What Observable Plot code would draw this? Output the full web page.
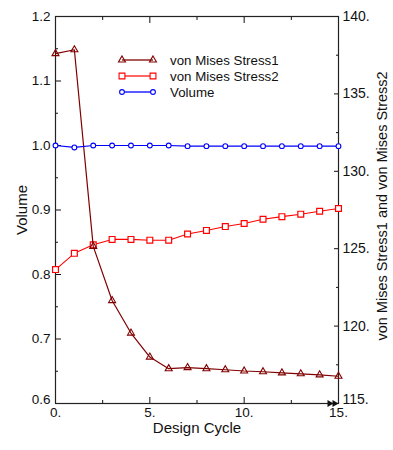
<!DOCTYPE html>
<html><head><meta charset="utf-8">
<script src="https://cdn.jsdelivr.net/npm/d3@7"></script>
<script src="https://cdn.jsdelivr.net/npm/@observablehq/plot@0.6"></script>
<style>
body{margin:0;background:#fff;}
#chart{position:relative;width:393px;height:450px;}
#legend{position:absolute;left:0;top:0;pointer-events:none;}
</style></head><body><div id="chart"></div>
<script>
// ---- data ----
const cycles  = [0,1,2,3,4,5,6,7,8,9,10,11,12,13,14,15];
const stress1 = [137.6,137.85,125.15,121.65,119.55,118.0,117.25,117.32,117.25,117.18,117.1,117.05,116.98,116.92,116.85,116.76];
const stress2 = [123.65,124.7,125.25,125.6,125.6,125.55,125.55,125.95,126.18,126.43,126.63,126.9,127.07,127.23,127.42,127.6];
const volume  = [1.0,0.997,1.0,1.0,1.0,1.0,1.0,0.999,0.999,0.999,0.999,0.999,0.999,0.999,0.999,0.999];
const seriesNames = ["von Mises Stress1","von Mises Stress2","Volume"];
const volumeTicks = [0.6,0.7,0.8,0.9,1.0,1.1,1.2];
const volumeMinor = [0.65,0.75,0.85,0.95,1.05,1.15];
const stressTicks = [115,120,125,130,135,140];
const stressMinor = [117.5,122.5,127.5,132.5,137.5];
const cycleTicks  = [0,5,10,15];
const cycleMinor  = [2.5,7.5,12.5];
const vDomain = [0.6,1.2];
const sDomain = [115,140];

// ---- helpers ----
const k = (vDomain[1]-vDomain[0])/(sDomain[1]-sDomain[0]);
const toV = s => vDomain[0] + (s - sDomain[0]) * k;
const toS = v => sDomain[0] + (v - vDomain[0]) / k;
const rows1 = cycles.map((c,i)=>({cycle:c, v:toV(stress1[i])}));
const rows2 = cycles.map((c,i)=>({cycle:c, v:toV(stress2[i])}));
const rows3 = cycles.map((c,i)=>({cycle:c, v:volume[i]}));
const colors = ["#800000","#ff0000","#0000ff"];
const symbols = ["triangle","square","circle"];
const vFmt = d=>d.toFixed(1);
const sFmt = v=>Math.round(toS(v))+".";
const none = ()=>"";

const plot = Plot.plot({
  width:393, height:450,
  marginLeft:55, marginRight:55, marginTop:16, marginBottom:47,
  style:{fontFamily:"'Liberation Sans', Arial, sans-serif", fontSize:"13.5px", color:"#111", background:"#fff"},
  x:{domain:[0,15]},
  y:{domain:vDomain},
  marks:[
    // left axis
    Plot.axisY(volumeTicks, {anchor:"left", tickSize:-6, tickFormat:none, label:null}),
    Plot.axisY(volumeTicks.slice(1), {anchor:"left", tickSize:0, tickPadding:5, tickFormat:vFmt, label:null}),
    Plot.axisY(volumeTicks.slice(0,1), {anchor:"left", tickSize:0, tickPadding:5, tickFormat:vFmt, label:null, dy:-4}),
    Plot.axisY(volumeMinor, {anchor:"left", tickSize:-3, tickFormat:none, label:null}),
    // right axis
    Plot.axisY(stressTicks.map(toV), {anchor:"right", tickSize:-5, tickFormat:none, label:null}),
    Plot.axisY(stressTicks.slice(1).map(toV), {anchor:"right", tickSize:0, tickPadding:4, tickFormat:sFmt, label:null, fontSize:14}),
    Plot.axisY(stressTicks.slice(0,1).map(toV), {anchor:"right", tickSize:0, tickPadding:4, tickFormat:sFmt, label:null, fontSize:14, dy:-4}),
    Plot.axisY(stressMinor.map(toV), {anchor:"right", tickSize:-3, tickFormat:none, label:null}),
    // bottom / top
    Plot.axisX(cycleTicks, {anchor:"bottom", tickSize:-6, tickPadding:10, tickFormat:d=>d+".", label:null}),
    Plot.axisX(cycleMinor, {anchor:"bottom", tickSize:-3, tickFormat:none, label:null}),
    Plot.axisX(cycleTicks, {anchor:"top", tickSize:-6, tickFormat:none, label:null}),
    Plot.axisX(cycleMinor, {anchor:"top", tickSize:-3, tickFormat:none, label:null}),
    Plot.frame({stroke:"#222", strokeWidth:1.2}),
    // series
    Plot.line(rows2, {x:"cycle", y:"v", stroke:colors[1], strokeWidth:1.1}),
    Plot.dot(rows2, {x:"cycle", y:"v", symbol:symbols[1], r:3.3, stroke:colors[1], fill:"white", strokeWidth:1.2}),
    Plot.line(rows1, {x:"cycle", y:"v", stroke:colors[0], strokeWidth:1.2}),
    Plot.dot(rows1, {x:"cycle", y:"v", symbol:symbols[0], r:2.6, stroke:colors[0], fill:"none", strokeWidth:1.1}),
    Plot.line(rows3, {x:"cycle", y:"v", stroke:colors[2], strokeWidth:1.2}),
    Plot.dot(rows3, {x:"cycle", y:"v", symbol:symbols[2], r:2.4, stroke:colors[2], fill:"white", strokeWidth:1.1}),
    // end marker on the x axis
    Plot.dot([0], {frameAnchor:"bottom-right", symbol:"triangle", rotate:90, r:2.6, fill:"#111", dx:-9}),
    Plot.dot([0], {frameAnchor:"bottom-right", symbol:"triangle", rotate:90, r:2.6, fill:"#111", dx:-4}),
    // axis titles
    Plot.text(["Volume"], {frameAnchor:"left", textAnchor:"middle", lineAnchor:"middle", rotate:-90, dx:-33, fontSize:15}),
    Plot.text(["von Mises Stress1 and von Mises Stress2"], {frameAnchor:"right", textAnchor:"middle", lineAnchor:"middle", rotate:-90, dx:44, dy:-4, fontSize:14.5}),
    Plot.text(["Design Cycle"], {frameAnchor:"bottom", textAnchor:"middle", lineAnchor:"middle", dy:25, fontSize:15})
  ]
});
const chart = document.getElementById("chart");
chart.appendChild(plot);

// ---- legend overlay ----
const leg = d3.create("svg").attr("id","legend").attr("width",393).attr("height",450)
  .style("font-family","'Liberation Sans', Arial, sans-serif").style("font-size","13.3px");
const symMap = {triangle:d3.symbolTriangle, square:d3.symbolSquare, circle:d3.symbolCircle};
const rMap = [2.6,3.3,2.4];
seriesNames.forEach((name,i)=>{
  const y = 60 + i*16;
  const g = leg.append("g");
  g.append("line").attr("x1",122).attr("x2",153).attr("y1",y).attr("y2",y)
    .attr("stroke",colors[i]).attr("stroke-width",i===1?2:1.3).attr("stroke-opacity",i===1?0.6:1);
  [122,153].forEach(x=>{
    g.append("path").attr("d", d3.symbol(symMap[symbols[i]], Math.PI*rMap[i]*rMap[i])())
      .attr("transform",`translate(${x},${y})`).attr("fill", i===0?"none":"white")
      .attr("stroke",colors[i]).attr("stroke-width",1.1);
  });
  g.append("text").attr("x",170).attr("y",y).attr("dy","0.35em").attr("fill","#111").text(name);
});
chart.appendChild(leg.node());
</script></body></html>
